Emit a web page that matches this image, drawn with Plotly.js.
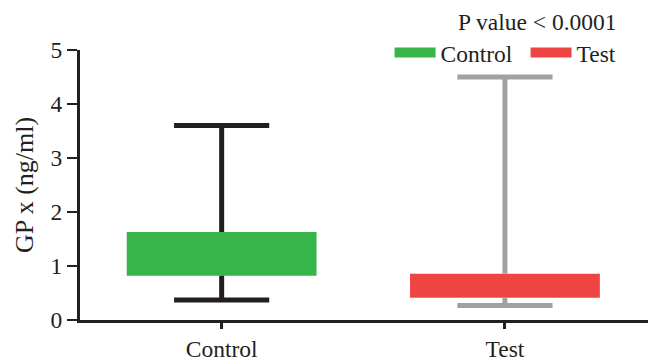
<!DOCTYPE html>
<html>
<head>
<meta charset="utf-8">
<script src="https://cdn.plot.ly/plotly-3.0.1.min.js"></script>
<style>html,body{margin:0;padding:0;background:#fff;}#chart{width:656px;height:358px;}</style>
</head>
<body>
<div id="chart"></div>
<script>
var categories = ["Control", "Test"];
var q1 = [0.82, 0.41];
var q3 = [1.63, 0.855];
var minVals = [0.37, 0.27];
var maxVals = [3.6, 4.5];
var pLabel = "P value < 0.0001";
var yTicks = [0, 1, 2, 3, 4, 5];

var boxColors = ["#37b44a", "#ef4444"];
var whiskerColors = ["#231f20", "#a1a1a4"];
var ink = "#231f20";
var font = "Liberation Serif, Times New Roman, serif";
var capHalf = 0.168;
var boxWidth = 0.67;

var traces = [];
categories.forEach(function (c, i) {
  traces.push({
    type: "bar", x: [i], y: [q3[i] - q1[i]], base: [q1[i]],
    width: boxWidth, marker: {color: boxColors[i], line: {width: 0}},
    showlegend: false, hoverinfo: "skip"
  });
});
categories.forEach(function (c, i) {
  traces.push({
    type: "scatter", mode: "lines",
    x: [i, i, null, i - capHalf, i + capHalf, null, i, i, null, i - capHalf, i + capHalf],
    y: [q3[i], maxVals[i], null, maxVals[i], maxVals[i], null, q1[i], minVals[i], null, minVals[i], minVals[i]],
    line: {color: whiskerColors[i], width: 5},
    showlegend: false, hoverinfo: "skip"
  });
});
// legend entries
categories.forEach(function (c, i) {
  traces.push({
    type: "scatter", mode: "lines", x: [null], y: [null], name: c,
    line: {color: boxColors[i], width: 14}, showlegend: true
  });
});

var layout = {
  width: 656, height: 358,
  margin: {l: 80, r: 8, t: 50, b: 38, autoexpand: false},
  paper_bgcolor: "#fff", plot_bgcolor: "#fff",
  font: {family: font, size: 23.5, color: ink},
  showlegend: true,
  legend: {
    orientation: "h", x: 0.545, y: 0.99, xanchor: "left", yanchor: "middle",
    itemwidth: 41, entrywidth: 80, font: {family: font, size: 23.5, color: ink},
    bgcolor: "rgba(0,0,0,0)", tracegroupgap: 0
  },
  xaxis: {
    range: [-0.5, 1.505], tickmode: "array", tickvals: [0, 1], ticktext: categories,
    showgrid: false, zeroline: false, showline: true, linecolor: ink, linewidth: 2.5,
    ticks: "outside", ticklen: 6, tickwidth: 3, tickcolor: ink,
    tickfont: {family: font, size: 23.5, color: ink}, fixedrange: true
  },
  yaxis: {
    range: [0, 5], tickmode: "array", tickvals: yTicks,
    showgrid: false, zeroline: false, showline: true, linecolor: ink, linewidth: 3,
    ticks: "outside", ticklen: 10, tickwidth: 2, tickcolor: ink,
    tickfont: {family: font, size: 23.5, color: ink},
    title: {text: "GP x (ng/ml)", font: {family: font, size: 26, color: ink}, standoff: 10},
    fixedrange: true
  },
  annotations: [{
    text: pLabel, xref: "paper", yref: "paper", x: 0.806, y: 1.104,
    xanchor: "center", yanchor: "middle", showarrow: false,
    font: {family: font, size: 23.5, color: ink}
  }]
};

Plotly.newPlot("chart", traces, layout, {displayModeBar: false, staticPlot: true});
</script>
</body>
</html>
